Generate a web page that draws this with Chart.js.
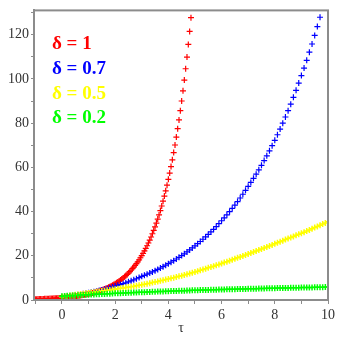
<!DOCTYPE html>
<html>
<head>
<meta charset="utf-8">
<script src="https://cdn.jsdelivr.net/npm/chart.js@4.4.1/dist/chart.umd.min.js"></script>
<style>
  html, body { margin: 0; padding: 0; background: #fff; }
  #chart { display: block; }
</style>
</head>
<body>
<canvas id="chart" width="353" height="340"></canvas>
<script>
// series values (x starts at *Start, steps by *Step)
const seriesLabels = ["δ = 1", "δ = 0.7", "δ = 0.5", "δ = 0.2"];
const seriesColors = ["#ff0000", "#0000ff", "#ffff00", "#00ff00"];

const redStart = -1, redStep = 0.05;
const redValues = [
  0.368, 0.387, 0.407, 0.427, 0.449, 0.472, 0.497, 0.522, 0.549, 0.577,
  0.607, 0.638, 0.670, 0.705, 0.741, 0.779, 0.819, 0.861, 0.905, 0.951,
  1.000, 1.051, 1.105, 1.162, 1.221, 1.284, 1.350, 1.419, 1.492, 1.568,
  1.649, 1.733, 1.822, 1.916, 2.014, 2.117, 2.226, 2.340, 2.460, 2.586,
  2.718, 2.858, 3.004, 3.158, 3.320, 3.490, 3.669, 3.857, 4.055, 4.263,
  4.482, 4.711, 4.953, 5.207, 5.474, 5.755, 6.050, 6.360, 6.686, 7.029,
  7.389, 7.768, 8.166, 8.585, 9.025, 9.488, 9.974, 10.49, 11.02, 11.59,
  12.18, 12.81, 13.46, 14.15, 14.88, 15.64, 16.44, 17.29, 18.17, 19.11,
  20.09, 21.12, 22.20, 23.34, 24.53, 25.79, 27.11, 28.50, 29.96, 31.50,
  33.12, 34.81, 36.60, 38.47, 40.45, 42.52, 44.70, 46.99, 49.40, 51.94,
  54.60, 57.40, 60.34, 63.43, 66.69, 70.11, 73.70, 77.48, 81.45, 85.63,
  90.02, 94.63, 99.48, 104.6, 109.9, 115.6, 121.5, 127.7
];

const blueStart = 0, blueStep = 0.1;
const blueValues = [
  1.50, 1.62, 1.76, 1.90, 2.05, 2.22, 2.40, 2.60, 2.81, 3.04,
  3.29, 3.51, 3.75, 4.00, 4.27, 4.55, 4.86, 5.19, 5.53, 5.91,
  6.30, 6.64, 7.00, 7.38, 7.79, 8.21, 8.66, 9.13, 9.62, 10.15,
  10.70, 11.17, 11.66, 12.17, 12.71, 13.26, 13.85, 14.45, 15.09, 15.75,
  16.44, 17.11, 17.81, 18.54, 19.29, 20.08, 20.90, 21.75, 22.64, 23.56,
  24.52, 25.47, 26.46, 27.48, 28.55, 29.65, 30.80, 31.99, 33.23, 34.52,
  35.85, 37.17, 38.53, 39.94, 41.41, 42.93, 44.50, 46.14, 47.83, 49.59,
  51.41, 53.19, 55.03, 56.93, 58.90, 60.94, 63.05, 65.23, 67.49, 69.82,
  72.24, 74.74, 77.33, 80.00, 82.77, 85.63, 88.60, 91.66, 94.83, 98.12,
  101.5, 104.9, 108.4, 112.1, 115.8, 119.7, 123.7, 127.9
];

const yellowStart = 0, yellowStep = 0.1;
const yellowValues = [
  1.50, 1.67, 1.84, 2.01, 2.18, 2.35, 2.52, 2.69, 2.86, 3.03,
  3.20, 3.37, 3.54, 3.71, 3.88, 4.05, 4.22, 4.39, 4.56, 4.73,
  4.90, 5.08, 5.27, 5.46, 5.65, 5.85, 6.05, 6.25, 6.46, 6.68,
  6.90, 7.14, 7.38, 7.63, 7.88, 8.14, 8.40, 8.67, 8.94, 9.22,
  9.50, 9.79, 10.09, 10.39, 10.70, 11.01, 11.33, 11.66, 11.99, 12.34,
  12.70, 13.06, 13.43, 13.80, 14.17, 14.55, 14.93, 15.31, 15.70, 16.10,
  16.50, 16.92, 17.34, 17.77, 18.20, 18.63, 19.06, 19.49, 19.92, 20.36,
  20.80, 21.25, 21.71, 22.17, 22.63, 23.09, 23.55, 24.01, 24.47, 24.93,
  25.40, 25.88, 26.36, 26.84, 27.32, 27.80, 28.28, 28.76, 29.24, 29.72,
  30.20, 30.70, 31.21, 31.72, 32.24, 32.76, 33.28, 33.80, 34.33, 34.86,
  35.40
];

const greenStart = 0, greenStep = 0.1;
const greenValues = [
  1.70, 1.79, 1.87, 1.95, 2.02, 2.09, 2.16, 2.22, 2.28, 2.34,
  2.40, 2.46, 2.52, 2.58, 2.64, 2.70, 2.76, 2.82, 2.88, 2.94,
  3.00, 3.05, 3.10, 3.15, 3.20, 3.25, 3.30, 3.35, 3.40, 3.45,
  3.50, 3.55, 3.60, 3.65, 3.70, 3.75, 3.80, 3.85, 3.90, 3.95,
  4.00, 4.04, 4.08, 4.12, 4.16, 4.20, 4.24, 4.28, 4.32, 4.36,
  4.40, 4.44, 4.47, 4.51, 4.54, 4.58, 4.61, 4.65, 4.68, 4.72,
  4.75, 4.78, 4.81, 4.84, 4.87, 4.90, 4.93, 4.96, 4.99, 5.02,
  5.05, 5.08, 5.11, 5.14, 5.17, 5.20, 5.23, 5.26, 5.29, 5.32,
  5.35, 5.38, 5.40, 5.43, 5.45, 5.48, 5.50, 5.53, 5.55, 5.58,
  5.60, 5.63, 5.65, 5.68, 5.70, 5.73, 5.75, 5.78, 5.80, 5.83,
  5.85
];

// tick labels
const xTickLabels = [0, 2, 4, 6, 8, 10];
const yTickLabels = [0, 20, 40, 60, 80, 100, 120];

function toPoints(start, step, values) {
  return values.map((v, i) => ({ x: +(start + i * step).toFixed(3), y: v }));
}

const serif = "'Liberation Serif', 'DejaVu Serif', serif";

// draws the delta legend inside the plot and the grey frame
const extrasPlugin = {
  id: "extras",
  afterDraw(chart) {
    const { ctx, chartArea } = chart;
    ctx.save();
    ctx.strokeStyle = "#8c8c8c";
    ctx.lineWidth = 2;
    ctx.strokeRect(chartArea.left, chartArea.top, chartArea.right - chartArea.left, chartArea.bottom - chartArea.top);

    ctx.font = "bold 19px " + serif;
    ctx.textBaseline = "middle";
    seriesLabels.forEach((label, i) => {
      ctx.fillStyle = seriesColors[i];
      ctx.fillText(label, chartArea.left + 18, chartArea.top + 34 + i * 24.7);
    });
    ctx.restore();
  },
};

const datasets = [
  { data: toPoints(greenStart, greenStep, greenValues), color: seriesColors[3], bw: 1.5 },
  { data: toPoints(yellowStart, yellowStep, yellowValues), color: seriesColors[2], bw: 1.5 },
  { data: toPoints(blueStart, blueStep, blueValues), color: seriesColors[1], bw: 1.2 },
  { data: toPoints(redStart, redStep, redValues), color: seriesColors[0], bw: 1.2 },
].map((d) => ({
  data: d.data,
  showLine: false,
  pointStyle: "cross",
  pointRadius: 3,
  pointBorderWidth: d.bw,
  pointBorderColor: d.color,
  pointBackgroundColor: d.color,
  pointHoverRadius: 3,
}));

const ctx = document.getElementById("chart");
new Chart(ctx, {
  type: "scatter",
  data: { datasets },
  options: {
    responsive: false,
    animation: false,
    devicePixelRatio: 1,
    layout: { padding: { top: 6, right: 25, left: 0, bottom: 0 } },
    plugins: { legend: { display: false }, tooltip: { enabled: false } },
    scales: {
      x: {
        type: "linear",
        min: -1.05,
        max: 10,
        afterBuildTicks: (scale) => {
          const t = [];
          for (let v = -1; v <= 10; v++) t.push({ value: v });
          scale.ticks = t;
        },
        afterFit: (scale) => { scale.height = 40; },
        ticks: {
          autoSkip: false,
          maxRotation: 0,
          padding: 3,
          color: "#333",
          font: { family: serif, size: 14 },
          callback: (v) => (xTickLabels.includes(v) ? String(v) : ""),
        },
        grid: { drawOnChartArea: false, tickLength: 4, tickColor: "#8c8c8c", tickWidth: 1 },
        border: { color: "#8c8c8c", width: 2 },
        title: {
          display: true,
          text: "τ",
          color: "#333",
          font: { family: serif, size: 14 },
          padding: { top: 0, bottom: 3 },
        },
      },
      y: {
        type: "linear",
        min: 0,
        max: 131,
        afterBuildTicks: (scale) => {
          const t = [];
          for (let v = 0; v <= 130; v += 10) t.push({ value: v });
          scale.ticks = t;
        },
        afterFit: (scale) => { scale.width = 34; },
        ticks: {
          autoSkip: false,
          padding: 2,
          color: "#333",
          font: { family: serif, size: 14 },
          callback: (v) => (yTickLabels.includes(v) ? String(v) : ""),
        },
        grid: { drawOnChartArea: false, tickLength: 3, tickColor: "#8c8c8c", tickWidth: 1 },
        border: { color: "#8c8c8c", width: 2 },
      },
    },
  },
  plugins: [extrasPlugin],
});
</script>
</body>
</html>
